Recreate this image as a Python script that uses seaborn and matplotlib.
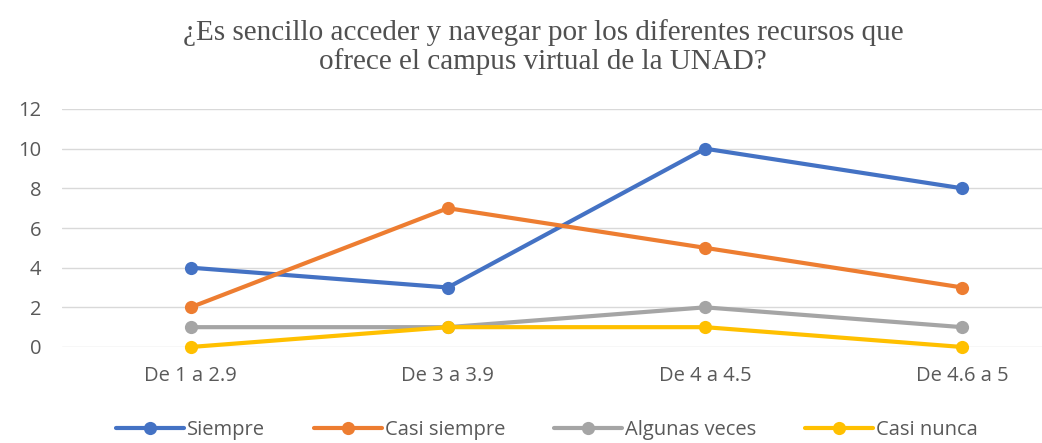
import pandas as pd
import matplotlib.pyplot as plt
import seaborn as sns
from matplotlib.lines import Line2D

# datos
categorias = ["De 1 a 2.9", "De 3 a 3.9", "De 4 a 4.5", "De 4.6 a 5"]
siempre = [4, 3, 10, 8]
casi_siempre = [2, 7, 5, 3]
algunas_veces = [1, 1, 2, 1]
casi_nunca = [0, 1, 1, 0]

series = {
    "Siempre": siempre,
    "Casi siempre": casi_siempre,
    "Algunas veces": algunas_veces,
    "Casi nunca": casi_nunca,
}
colores = ["#4472C4", "#ED7D31", "#A5A5A5", "#FFC000"]

df = pd.DataFrame(
    [(cat, nombre, v) for nombre, vals in series.items() for cat, v in zip(categorias, vals)],
    columns=["rango", "respuesta", "cantidad"],
)

sns.set_style("white")
plt.rcParams["font.family"] = ["Open Sans", "DejaVu Sans"]

fig = plt.figure(figsize=(10.42, 4.43), dpi=100)
# el área del gráfico sigue más allá del borde derecho (imagen recortada)
ax = fig.add_axes([62 / 1042, 96 / 443, (1091 - 62) / 1042, 238 / 443])

sns.lineplot(
    data=df, x="rango", y="cantidad", hue="respuesta",
    hue_order=list(series.keys()), palette=colores,
    marker="o", markersize=9.5, markeredgewidth=0, linewidth=3,
    sort=False, legend=False, ax=ax, clip_on=False, zorder=3,
)

ax.set_xlim(-0.5, 3.5)
ax.set_ylim(0, 12)
ax.set_yticks(range(0, 13, 2))
ax.grid(axis="y", color="#D9D9D9", linewidth=1)
ax.set_axisbelow(True)
for s in ax.spines.values():
    s.set_visible(False)
ax.set_xlabel("")
ax.set_ylabel("")
ax.tick_params(axis="both", length=0, labelsize=14.5, labelcolor="#595959")
ax.tick_params(axis="x", pad=14)
ax.tick_params(axis="y", pad=15)

fig.text(0.521, 0.893,
         "¿Es sencillo acceder y navegar por los diferentes recursos que\nofrece el campus virtual de la UNAD?",
         ha="center", va="center", fontsize=21, color="#505050",
         family=["Liberation Serif", "DejaVu Serif"], linespacing=1.1)

handles = [Line2D([0], [0], color=c, lw=3, marker="o", markersize=9.5, markeredgewidth=0)
           for c in colores]
fig.legend(handles, list(series.keys()), loc="center", bbox_to_anchor=(0.525, 0.03),
           ncol=4, frameon=False, fontsize=14.5, handlelength=3.4, handletextpad=0.15,
           columnspacing=2.4, labelcolor="#595959")

fig.savefig("out.png", dpi=100)
